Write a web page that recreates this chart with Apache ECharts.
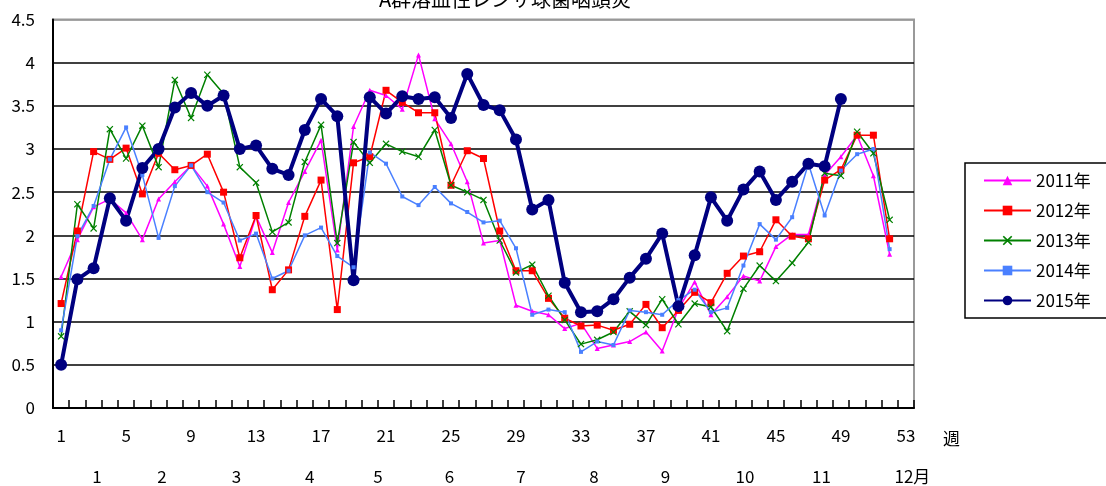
<!DOCTYPE html>
<html><head><meta charset="utf-8">
<script src="https://cdn.jsdelivr.net/npm/echarts@6/dist/echarts.min.js"></script>
<style>html,body{margin:0;padding:0;background:#fff}#c{width:1106px;height:486px}</style>
</head><body><div id="c"></div>
<script>
const weeks = Array.from({length:53},(_,i)=>String(i+1));
const s2011 = [1.52,1.95,2.33,2.42,2.26,1.95,2.42,2.62,2.81,2.57,2.13,1.64,2.22,1.80,2.38,2.74,3.10,1.83,3.26,3.68,3.62,3.46,4.09,3.35,3.06,2.62,1.91,1.94,1.19,1.12,1.08,0.92,0.98,0.69,0.73,0.77,0.88,0.66,1.15,1.46,1.08,1.29,1.53,1.47,1.87,2.01,2.01,2.70,2.91,3.16,2.69,1.78];
const s2012 = [1.21,2.05,2.97,2.88,3.01,2.48,2.95,2.76,2.81,2.94,2.50,1.74,2.23,1.37,1.60,2.22,2.64,1.14,2.84,2.91,3.68,3.54,3.42,3.42,2.58,2.98,2.89,2.05,1.59,1.59,1.27,1.04,0.95,0.96,0.90,0.97,1.20,0.93,1.13,1.34,1.22,1.56,1.76,1.81,2.18,1.99,1.96,2.64,2.76,3.16,3.16,1.96];
const s2013 = [0.83,2.36,2.08,3.23,2.89,3.27,2.79,3.80,3.36,3.86,3.64,2.79,2.61,2.04,2.15,2.85,3.28,1.91,3.08,2.84,3.06,2.97,2.91,3.22,2.58,2.50,2.41,1.94,1.57,1.66,1.30,1.02,0.74,0.79,0.88,1.12,0.96,1.26,0.97,1.21,1.17,0.89,1.38,1.65,1.47,1.68,1.92,2.72,2.69,3.20,2.95,2.18];
const s2014 = [0.90,1.99,2.34,2.88,3.25,2.70,1.97,2.57,2.81,2.50,2.38,1.94,2.02,1.50,1.59,2.00,2.09,1.76,1.63,2.96,2.83,2.45,2.35,2.56,2.37,2.27,2.15,2.17,1.85,1.08,1.14,1.11,0.65,0.77,0.73,1.13,1.11,1.08,1.25,1.37,1.11,1.16,1.65,2.13,1.95,2.21,2.83,2.23,2.75,2.94,3.00,1.84];
const s2015 = [0.50,1.49,1.62,2.43,2.17,2.78,3.00,3.48,3.65,3.50,3.62,3.00,3.04,2.77,2.70,3.22,3.58,3.38,1.48,3.60,3.41,3.61,3.58,3.60,3.36,3.87,3.51,3.45,3.11,2.30,2.41,1.45,1.11,1.12,1.26,1.51,1.73,2.02,1.18,1.77,2.44,2.17,2.53,2.74,2.41,2.62,2.83,2.80,3.58];
const monthPos = [3.2,7.2,11.8,16.3,20.5,24.9,29.3,33.8,38.2,43.1,47.8,53.4];
const monthLabels = ['1','2','3','4','5','6','7','8','9','10','11','12月'];
const titleText = 'A群溶血性レンサ球菌咽頭炎';
const FONT = '"Noto Sans CJK JP", sans-serif';

const xPath = 'path://M0,1.2 L1.2,0 L5,3.8 L8.8,0 L10,1.2 L6.2,5 L10,8.8 L8.8,10 L5,6.2 L1.2,10 L0,8.8 L3.8,5 Z';
function mk(name,data,color,width,symbol,size){
  return {name,type:'line',data,xAxisIndex:0,yAxisIndex:0,symbol,symbolSize:size,showSymbol:true,showAllSymbol:true,
    lineStyle:{color,width},itemStyle:{color,borderColor:color,borderWidth:0},
    emphasis:{disabled:true},animation:false,z:3};
}
const chart = echarts.init(document.getElementById('c'),null,{renderer:'canvas'});
const splitColors = ['#000','#000','#000','#000','#000','#000','#000','#000','#000','#999'];
chart.setOption({
  animation:false,
  textStyle:{fontFamily:FONT},
  title:{text:titleText,left:500,top:-16,textAlign:'center',
    textStyle:{fontFamily:FONT,fontSize:20,fontWeight:'normal',color:'#000'}},
  legend:{orient:'vertical',left:965,top:163,
    borderColor:'#000',borderWidth:1.5,padding:[9,60,9,18],
    itemWidth:47,itemHeight:12,itemGap:13,
    textStyle:{fontFamily:FONT,fontSize:17,color:'#000'},
    data:['2011年','2012年','2013年','2014年','2015年']},
  grid:{left:53,right:192,top:19.5,bottom:78,show:true,borderColor:'#999',borderWidth:2,containLabel:false},
  xAxis:[{
    type:'category',data:weeks,boundaryGap:true,position:'bottom',
    name:'週',nameLocation:'end',nameGap:29,
    nameTextStyle:{fontFamily:FONT,fontSize:17,color:'#000',verticalAlign:'top',padding:[22,0,0,0]},
    axisLine:{lineStyle:{color:'#000',width:2}},
    axisTick:{show:true,inside:true,length:8,interval:0,alignWithLabel:false,lineStyle:{color:'#000',width:1.5}},
    axisLabel:{interval:3,margin:19,fontFamily:FONT,fontSize:17,color:'#000'},
    splitLine:{show:false}
  },{
    type:'value',min:0.5,max:53.5,position:'bottom',
    axisLine:{show:false},axisTick:{show:false},splitLine:{show:false},
    axisLabel:{customValues:monthPos,margin:60,fontFamily:FONT,fontSize:17,color:'#000',
      showMinLabel:true,showMaxLabel:true,
      formatter:function(v){const i=monthPos.indexOf(v);return i>=0?monthLabels[i]:'';}}
  }],
  yAxis:{type:'value',min:0,max:4.5,interval:0.5,
    axisLine:{show:true,lineStyle:{color:'#000',width:2}},
    axisTick:{show:false},
    axisLabel:{margin:18,fontFamily:FONT,fontSize:17,color:'#000'},
    splitLine:{show:true,lineStyle:{color:splitColors,width:1.5}}},
  series:[
    mk('2011年',s2011,'#FF00FF',1.5,'triangle',5),
    mk('2012年',s2012,'#FF0000',1.5,'rect',7),
    mk('2013年',s2013,'#008000',1.5,xPath,7),
    mk('2014年',s2014,'#4A80FF',1.5,'rect',4),
    mk('2015年',s2015,'#000080',4,'circle',12)
  ]
});
</script></body></html>
